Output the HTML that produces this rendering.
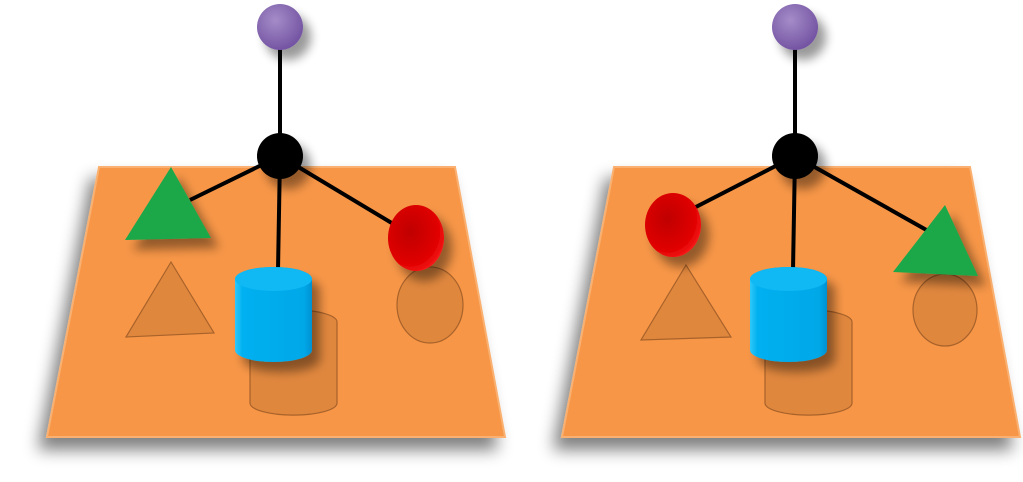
<!DOCTYPE html>
<html><head><style>html,body{margin:0;padding:0;background:#fff;}svg{display:block}</style></head>
<body>
<svg width="1023" height="482" viewBox="0 0 1023 482" xmlns="http://www.w3.org/2000/svg">
<defs>
<filter id="sh" x="-20%" y="-20%" width="150%" height="150%"><feGaussianBlur in="SourceAlpha" stdDeviation="8"/><feOffset dx="-8" dy="12"/><feComponentTransfer><feFuncA type="linear" slope="0.5"/></feComponentTransfer><feMerge><feMergeNode/><feMergeNode in="SourceGraphic"/></feMerge></filter>
<filter id="sh2" x="-50%" y="-50%" width="200%" height="200%"><feGaussianBlur in="SourceAlpha" stdDeviation="5"/><feOffset dx="8" dy="10"/><feComponentTransfer><feFuncA type="linear" slope="0.4"/></feComponentTransfer><feMerge><feMergeNode/><feMergeNode in="SourceGraphic"/></feMerge></filter>
<radialGradient id="pur" cx="0.4" cy="0.35" r="0.7"><stop offset="0" stop-color="#a58cc8"/><stop offset="1" stop-color="#7050a0"/></radialGradient>
<radialGradient id="red" cx="0.4" cy="0.4" r="0.7"><stop offset="0" stop-color="#c00000"/><stop offset="0.7" stop-color="#e00000"/><stop offset="1" stop-color="#ff2020"/></radialGradient>
<linearGradient id="blu" x1="0" x2="1"><stop offset="0" stop-color="#30c8f8"/><stop offset="0.1" stop-color="#00b0f0"/><stop offset="0.9" stop-color="#00a8e8"/><stop offset="1" stop-color="#0090d0"/></linearGradient>
<g id="base">
<polygon points="99,167 455,167 505,437 47,437" fill="#f79646" stroke="#f9b070" stroke-width="2" filter="url(#sh)"/>
<path d="M250,322 a43,12 0 0 1 87,0 V403 a43,12 0 0 1 -87,0 Z" fill="#e0873e" stroke="#a8622a" stroke-width="1.2"/>
<line x1="280" y1="26" x2="280" y2="156" stroke="#000" stroke-width="4"/>
<line x1="280" y1="156" x2="278" y2="270" stroke="#000" stroke-width="4"/>
<circle cx="280" cy="27" r="23" fill="url(#pur)" filter="url(#sh2)"/>
<circle cx="280" cy="156" r="23" fill="#000" filter="url(#sh2)"/>
<path d="M235,279 a38.5,12 0 0 1 77,0 V350 a38.5,12 0 0 1 -77,0 Z" fill="url(#blu)" filter="url(#sh2)"/>
<ellipse cx="273.5" cy="279" rx="38.5" ry="12" fill="#10b8f4"/>
</g>
</defs>
<use href="#base"/>
<use href="#base" x="515"/>
<polygon points="171,262 126,337 214,333" fill="#e0873e" stroke="#a8622a" stroke-width="1.2"/>
<ellipse cx="430" cy="305" rx="33" ry="38" fill="#e0873e" stroke="#a8622a" stroke-width="1.2"/>
<line x1="280" y1="156" x2="190" y2="200" stroke="#000" stroke-width="4"/>
<line x1="280" y1="156" x2="395" y2="225" stroke="#000" stroke-width="4"/>
<polygon points="171,167 125,240 211,238" fill="#1aa84a" filter="url(#sh2)"/>
<ellipse cx="416" cy="238" rx="28" ry="33" fill="url(#red)" filter="url(#sh2)"/>
<polygon points="686,265 641,340 731,337" fill="#e0873e" stroke="#a8622a" stroke-width="1.2"/>
<ellipse cx="945" cy="310" rx="32" ry="36" fill="#e0873e" stroke="#a8622a" stroke-width="1.2"/>
<line x1="795" y1="156" x2="690" y2="210" stroke="#000" stroke-width="4"/>
<line x1="795" y1="156" x2="930" y2="232" stroke="#000" stroke-width="4"/>
<ellipse cx="673" cy="225" rx="28" ry="32" fill="url(#red)" filter="url(#sh2)"/>
<polygon points="945,205 893,272 978,276" fill="#1aa84a" filter="url(#sh2)"/>
</svg>
</body></html>
